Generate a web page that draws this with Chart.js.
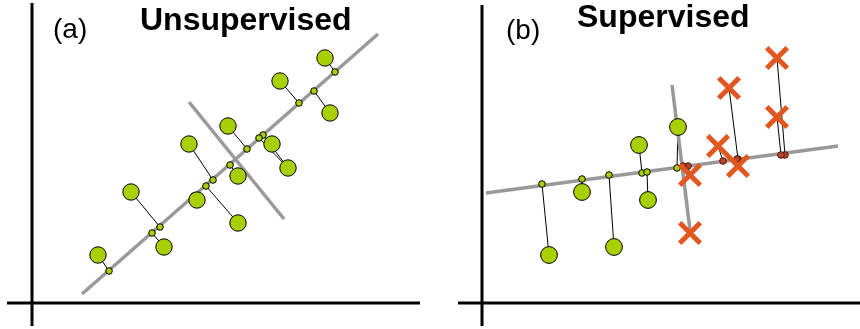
<!DOCTYPE html>
<html><head><meta charset="utf-8">
<script src="https://cdn.jsdelivr.net/npm/chart.js@4.4.1/dist/chart.umd.min.js"></script>
<style>
html,body{margin:0;padding:0;background:#fff;}
#wrap{position:relative;width:860px;height:329px;overflow:hidden;background:#fff;}
.panel{position:absolute;top:0;width:430px;height:329px;}
canvas{display:block;}
</style></head><body>
<div id="wrap">
<div class="panel" style="left:0"><canvas id="ca" width="430" height="329"></canvas></div>
<div class="panel" style="left:430px"><canvas id="cb" width="430" height="329"></canvas></div>
</div>
<script>
// ---- text ----
const panelLabels = ['(a)', '(b)'];
const panelTitles = ['Unsupervised', 'Supervised'];

// ---- panel (a): unsupervised, all samples one class ----
const aX     = [6.6, 13.2, 9.9, 16.5, 20.6, 15.7, 20.6, 19.6, 24.0, 25.6, 24.8, 29.8, 29.3];
const aY     = [4.8, 5.6, 11.1, 10.3, 8.0, 15.9, 12.7, 17.7, 15.9, 13.5, 22.2, 19.0, 24.5];
const aProjX = [7.7, 12.0, 12.8, 16.2, 17.4, 18.1, 19.8, 21.5, 23.1, 22.7, 26.7, 28.2, 30.3];
const aProjY = [3.2, 7.0, 7.6, 10.7, 11.7, 12.3, 13.8, 15.4, 16.8, 16.5, 20.0, 21.2, 23.1];
const aExtraLinks = [[9, 8]];           // [sample index, projection index]
const aMainAxisX = [5.0, 34.6], aMainAxisY = [0.9, 26.9];
const aPerpAxisX = [15.7, 25.2], aPerpAxisY = [20.1, 8.4];
const aFrameH = [-2.5, 38.8], aFrameV = [-2.3, 30.0];

// ---- panel (b): supervised, two classes ----
const bGreenX     = [6.7, 10.0, 13.2, 15.7, 16.6, 19.6];
const bGreenY     = [4.8, 11.1, 5.6, 15.8, 10.3, 17.6];
const bGreenProjX = [6.0, 10.0, 12.7, 16.0, 16.5, 19.5];
const bGreenProjY = [11.9, 12.4, 12.8, 13.0, 13.1, 13.5];
const bCrossX     = [29.5, 24.7, 29.5, 23.6, 25.6, 20.8, 20.8];
const bCrossY     = [24.5, 21.5, 18.6, 15.7, 13.7, 12.8, 7.0];
const bCrossProjX = [30.3, 25.6, 29.9, 24.1, 25.5, 20.6, 20.1];
const bCrossProjY = [14.8, 14.4, 14.8, 14.2, 14.4, 13.7, 13.7];
const bMainAxisX = [0.4, 35.6], bMainAxisY = [11.0, 15.7];
const bPerpAxisX = [19.0, 20.8], bPerpAxisY = [21.8, 7.3];
const bFrameH = [-2.4, 37.8], bFrameV = [-2.3, 29.8];

// ---- styles ----
const GREEN = '#a8d000', ORANGE = '#e2561f', DARKRED = '#b6452c', GREY = '#999999';

const pts = (xs, ys) => xs.map((x, i) => ({x, y: ys[i]}));

function seg(x0, y0, x1, y1, color, width, order) {
  return {data: [{x: x0, y: y0}, {x: x1, y: y1}], showLine: true, pointRadius: 0,
    borderColor: color, borderWidth: width, borderCapStyle: 'butt', fill: false, order, clip: false};
}
function frame(h, v) {
  return [seg(h[0], 0, h[1], 0, '#000', 3, 7), seg(0, v[0], 0, v[1], '#000', 3, 7)];
}
function links(xs, ys, pxs, pys) {
  return xs.map((x, i) => seg(x, ys[i], pxs[i], pys[i], '#000', 1, 6));
}
function dots(xs, ys, r, fill, border, order, style) {
  return {data: pts(xs, ys), pointRadius: r, pointHoverRadius: r,
    pointBackgroundColor: fill, pointBorderColor: border,
    pointBorderWidth: style === 'crossRot' ? 5 : 1,
    pointStyle: style || 'circle', showLine: false, order, clip: false};
}

const textPlugin = {
  id: 'panelText',
  afterDraw(chart, args, o) {
    const ctx = chart.ctx;
    ctx.save();
    ctx.fillStyle = '#000';
    ctx.textAlign = 'left';
    ctx.textBaseline = 'alphabetic';
    ctx.font = o.labelFont;
    ctx.fillText(o.label, o.labelX, o.labelY);
    ctx.font = o.titleFont;
    ctx.fillText(o.title, o.titleX, o.titleY);
    ctx.restore();
  }
};

function makeChart(id, datasets, xr, text) {
  return new Chart(document.getElementById(id), {
    type: 'scatter',
    data: {datasets},
    plugins: [textPlugin],
    options: {
      responsive: false, animation: false, devicePixelRatio: 1,
      layout: {padding: 0, autoPadding: false},
      events: [],
      scales: {
        x: {type: 'linear', min: xr[0], max: xr[1], display: false},
        y: {type: 'linear', min: -2.6, max: 30.3, display: false}
      },
      plugins: {legend: {display: false}, tooltip: {enabled: false}, title: {display: false},
        panelText: text}
    }
  });
}

// panel (a)
const dsA = [
  ...frame(aFrameH, aFrameV),
  seg(aMainAxisX[0], aMainAxisY[0], aMainAxisX[1], aMainAxisY[1], GREY, 3.5, 5),
  seg(aPerpAxisX[0], aPerpAxisY[0], aPerpAxisX[1], aPerpAxisY[1], GREY, 3.5, 5),
  ...links(aX, aY, aProjX, aProjY),
  ...aExtraLinks.map(([s, p]) => seg(aX[s], aY[s], aProjX[p], aProjY[p], '#000', 1, 6)),
  dots(aProjX, aProjY, 3.3, GREEN, '#000', 3),
  dots(aX, aY, 8.2, GREEN, '#000', 2)
];
makeChart('ca', dsA, [-3.2, 39.8], {
  label: panelLabels[0], labelX: 53, labelY: 38, labelFont: '28px "Liberation Sans", Arial, sans-serif',
  title: panelTitles[0], titleX: 140, titleY: 30, titleFont: 'bold 32px "Liberation Sans", Arial, sans-serif'
});

// panel (b)
const dsB = [
  ...frame(bFrameH, bFrameV),
  seg(bMainAxisX[0], bMainAxisY[0], bMainAxisX[1], bMainAxisY[1], GREY, 3.5, 5),
  seg(bPerpAxisX[0], bPerpAxisY[0], bPerpAxisX[1], bPerpAxisY[1], GREY, 3.5, 5),
  ...links(bGreenX, bGreenY, bGreenProjX, bGreenProjY),
  ...links(bCrossX, bCrossY, bCrossProjX, bCrossProjY),
  dots(bGreenProjX, bGreenProjY, 3.3, GREEN, '#000', 3),
  dots(bCrossProjX, bCrossProjY, 3.3, DARKRED, '#4a1408', 3),
  dots(bGreenX, bGreenY, 8.4, GREEN, '#000', 2),
  dots(bCrossX, bCrossY, 14.5, ORANGE, ORANGE, 1, 'crossRot')
];
makeChart('cb', dsB, [-5.2, 37.8], {
  label: panelLabels[1], labelX: 76, labelY: 39, labelFont: '28px "Liberation Sans", Arial, sans-serif',
  title: panelTitles[1], titleX: 147, titleY: 27, titleFont: 'bold 32px "Liberation Sans", Arial, sans-serif'
});
</script>
</body></html>
